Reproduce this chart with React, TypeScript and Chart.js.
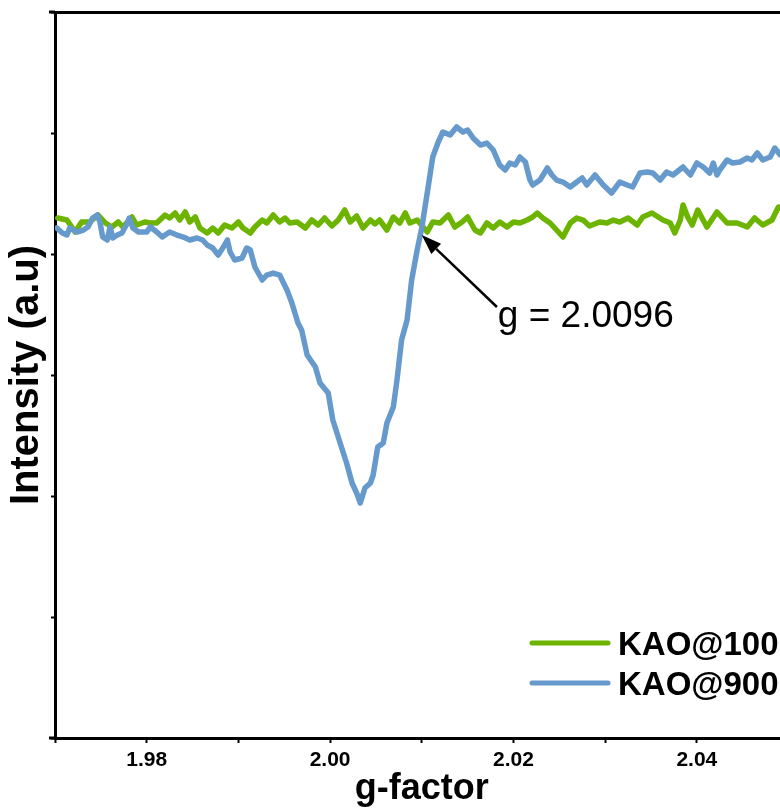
import React, { useEffect, useRef } from 'react';
import { Chart, registerables } from 'chart.js';

Chart.register(...registerables);

const FONT = "'Liberation Sans', Arial, Helvetica, sans-serif";

// Axis setup
const X_MIN = 1.97;
const X_MAX = 2.05;
const xTickValues = [1.97, 1.98, 1.99, 2.0, 2.01, 2.02, 2.03, 2.04, 2.05];
const xTickLabels = ['1.98', '2.00', '2.02', '2.04'];
const Y_MIN = 0;
const Y_MAX = 726;
const Y_STEP = 121;

const seriesLabels = ['KAO@100', 'KAO@900'];
const seriesColors = ['#6cb400', '#6699cc'];

// KAO@100 (green)
const g100 = [
  1.9703, 1.9713, 1.9722, 1.9729, 1.9738, 1.9747, 1.9755, 1.9762, 1.9769, 1.9774,
  1.9784, 1.9789, 1.9798, 1.9804, 1.9811, 1.982, 1.9825, 1.9831, 1.9836, 1.9842,
  1.9847, 1.9853, 1.9858, 1.9866, 1.9872, 1.9878, 1.9885, 1.9893, 1.99, 1.9905,
  1.9913, 1.9918, 1.9926, 1.9931, 1.9938, 1.9945, 1.9951, 1.9956, 1.9964, 1.9973,
  1.998, 1.9987, 1.9994, 2.0002, 2.0009, 2.0016, 2.0022, 2.0029, 2.0036, 2.0044,
  2.0049, 2.0054, 2.0062, 2.0069, 2.0076, 2.0082, 2.0087, 2.0095, 2.0106, 2.0112,
  2.012, 2.0129, 2.0136, 2.0144, 2.015, 2.0158, 2.0164, 2.0171, 2.0178, 2.0185,
  2.0193, 2.02, 2.0207, 2.0215, 2.0221, 2.0226, 2.0232, 2.024, 2.0247, 2.0254,
  2.0262, 2.0269, 2.0276, 2.0283, 2.0294, 2.0302, 2.0309, 2.0316, 2.0325, 2.0335,
  2.0341, 2.0351, 2.0363, 2.0371, 2.0376, 2.0382, 2.0385, 2.039, 2.0395, 2.0401,
  2.0411, 2.0422, 2.0433, 2.0444, 2.0455, 2.0463, 2.0472, 2.0482, 2.0489, 2.05,
];
const i100 = [
  520, 518, 506, 516, 516, 523, 515, 511, 516, 511,
  521, 513, 516, 515, 515, 523, 520, 525, 518, 526,
  516, 521, 510, 505, 510, 505, 513, 510, 516, 510,
  505, 511, 518, 515, 523, 516, 520, 515, 516, 510,
  518, 513, 520, 512, 518, 528, 516, 522, 510, 518,
  514, 518, 508, 521, 515, 525, 515, 518, 506, 516,
  515, 523, 511, 516, 521, 508, 505, 515, 510, 516,
  511, 516, 515, 518, 521, 525, 520, 515, 508, 501,
  515, 520, 518, 512, 516, 515, 518, 516, 520, 513,
  521, 525, 518, 515, 505, 518, 533, 521, 513, 528,
  511, 526, 515, 515, 511, 520, 513, 518, 531, 526,
];

// KAO@900 (blue)
const g900 = [
  1.9702, 1.9708, 1.9713, 1.9716, 1.9724, 1.9731, 1.9736, 1.9741, 1.9746, 1.9749,
  1.9752, 1.9757, 1.976, 1.9763, 1.9768, 1.9773, 1.9779, 1.9781, 1.9785, 1.9791,
  1.98, 1.9804, 1.9811, 1.9817, 1.9825, 1.9833, 1.984, 1.9847, 1.9855, 1.9861,
  1.9866, 1.9872, 1.9878, 1.9883, 1.9888, 1.9891, 1.9896, 1.9904, 1.9909, 1.9913,
  1.9918, 1.9926, 1.9931, 1.9938, 1.9945, 1.9953, 1.9958, 1.9965, 1.9969, 1.9975,
  1.9984, 1.9989, 1.9998, 2.0003, 2.0011, 2.0018, 2.0024, 2.0029, 2.0033, 2.0038,
  2.0044, 2.0047, 2.0052, 2.0058, 2.0062, 2.0069, 2.0073, 2.0078, 2.0084, 2.0089,
  2.0095, 2.01, 2.0107, 2.0112, 2.0118, 2.0123, 2.0131, 2.0138, 2.0145, 2.015,
  2.0156, 2.0164, 2.0171, 2.0178, 2.0185, 2.0191, 2.0196, 2.0202, 2.0207, 2.0213,
  2.0218, 2.0221, 2.0229, 2.0237, 2.0242, 2.0247, 2.0254, 2.0262, 2.0269, 2.0275,
  2.028, 2.0289, 2.0298, 2.0307, 2.0316, 2.0324, 2.033, 2.0338, 2.0346, 2.0352,
  2.036, 2.0367, 2.0374, 2.0385, 2.0393, 2.04, 2.0407, 2.0414, 2.0418, 2.0422,
  2.0425, 2.0433, 2.0439, 2.0447, 2.0455, 2.046, 2.0466, 2.0472, 2.048, 2.0485,
  2.0491, 2.05,
];
const i900 = [
  510, 505, 503, 510, 506, 508, 511, 520, 523, 516,
  501, 498, 511, 500, 503, 505, 515, 520, 510, 506,
  506, 511, 506, 501, 506, 503, 501, 498, 500, 498,
  493, 490, 483, 490, 498, 486, 478, 480, 490, 488,
  471, 458, 463, 465, 463, 448, 436, 415, 408, 383,
  371, 355, 345, 318, 295, 275, 255, 245, 235, 250,
  255, 263, 291, 295, 315, 331, 358, 398, 418, 458,
  488, 510, 551, 581, 596, 606, 603, 611, 606, 608,
  600, 593, 595, 588, 573, 568, 575, 573, 581, 576,
  558, 553, 558, 570, 563, 558, 556, 551, 556, 560,
  553, 563, 553, 545, 556, 553, 551, 565, 566, 565,
  558, 566, 563, 571, 563, 575, 571, 565, 575, 563,
  568, 578, 575, 576, 580, 578, 585, 578, 581, 590,
  583, 588,
];

// Annotation (data coordinates)
const annotationText = 'g = 2.0096';
const arrowTip = [2.01, 503];
const arrowTail = [2.0182, 431];
const annotationTextPos = [2.0183, 411];

const annotationPlugin = {
  id: 'gAnnotation',
  afterDatasetsDraw(chart: any) {
    const { ctx, scales } = chart;
    const x = scales.x;
    const y = scales.y;
    const tx = x.getPixelForValue(arrowTip[0]);
    const ty = y.getPixelForValue(arrowTip[1]);
    const sx = x.getPixelForValue(arrowTail[0]);
    const sy = y.getPixelForValue(arrowTail[1]);
    const ang = Math.atan2(ty - sy, tx - sx);
    const headLen = 20;
    const headHalf = 7;
    const bx = tx - headLen * Math.cos(ang);
    const by = ty - headLen * Math.sin(ang);
    ctx.save();
    ctx.strokeStyle = '#000';
    ctx.fillStyle = '#000';
    ctx.lineWidth = 2.5;
    ctx.beginPath();
    ctx.moveTo(sx, sy);
    ctx.lineTo(bx, by);
    ctx.stroke();
    ctx.beginPath();
    ctx.moveTo(tx, ty);
    ctx.lineTo(bx + headHalf * Math.sin(ang), by - headHalf * Math.cos(ang));
    ctx.lineTo(bx - headHalf * Math.sin(ang), by + headHalf * Math.cos(ang));
    ctx.closePath();
    ctx.fill();
    ctx.font = `37px ${FONT}`;
    ctx.textBaseline = 'alphabetic';
    ctx.textAlign = 'left';
    ctx.fillText(annotationText, x.getPixelForValue(annotationTextPos[0]), y.getPixelForValue(annotationTextPos[1]));
    ctx.restore();
  },
};

const legendPlugin = {
  id: 'customLegend',
  afterDraw(chart: any) {
    const { ctx } = chart;
    ctx.save();
    const lineX0 = 532;
    const lineX1 = 608;
    const textX = 618;
    const rows = [643, 683];
    seriesLabels.forEach((label, i) => {
      const yy = rows[i];
      ctx.strokeStyle = seriesColors[i];
      ctx.lineWidth = 5;
      ctx.lineCap = 'round';
      ctx.beginPath();
      ctx.moveTo(lineX0, yy);
      ctx.lineTo(lineX1, yy);
      ctx.stroke();
      ctx.fillStyle = '#000';
      ctx.font = `bold 33px ${FONT}`;
      ctx.textBaseline = 'alphabetic';
      ctx.textAlign = 'left';
      ctx.fillText(label, textX, yy + 12);
    });
    // small overhangs of the top and bottom frame lines past the left axis
    const area = chart.chartArea;
    ctx.strokeStyle = '#000';
    ctx.lineWidth = 3;
    ctx.lineCap = 'butt';
    ctx.beginPath();
    ctx.moveTo(area.left - 6, area.top);
    ctx.lineTo(area.left, area.top);
    ctx.moveTo(area.left - 6, area.bottom);
    ctx.lineTo(area.left, area.bottom);
    ctx.stroke();
    ctx.restore();
  },
};

export default function App() {
  const canvasRef = useRef<HTMLCanvasElement | null>(null);

  useEffect(() => {
    const canvas = canvasRef.current;
    if (!canvas) return;
    const chart = new Chart(canvas, {
      type: 'line',
      data: {
        datasets: [
          {
            label: seriesLabels[0],
            data: g100.map((g, i) => ({ x: g, y: i100[i] })),
            borderColor: seriesColors[0],
            borderWidth: 5.5,
            borderJoinStyle: 'round',
            borderCapStyle: 'round',
            pointRadius: 0,
            tension: 0,
            order: 2,
          },
          {
            label: seriesLabels[1],
            data: g900.map((g, i) => ({ x: g, y: i900[i] })),
            borderColor: seriesColors[1],
            borderWidth: 5.5,
            borderJoinStyle: 'round',
            borderCapStyle: 'round',
            pointRadius: 0,
            tension: 0,
            order: 1,
          },
        ],
      },
      options: {
        responsive: false,
        animation: false,
        devicePixelRatio: 1,
        layout: { padding: { left: 3, right: 11.5, top: 12, bottom: 11 } },
        plugins: {
          legend: { display: false },
          tooltip: { enabled: false },
        },
        scales: {
          x: {
            type: 'linear',
            position: 'bottom',
            min: X_MIN,
            max: X_MAX,
            afterBuildTicks: (axis: any) => {
              axis.ticks = xTickValues.map((v) => ({ value: v }));
            },
            ticks: {
              autoSkip: false,
              maxRotation: 0,
              padding: 7,
              color: '#000',
              font: { family: FONT, size: 21, weight: 'bold', lineHeight: 1 },
              callback: (value: any) => {
                const s = (Math.round(Number(value) * 100) / 100).toFixed(2);
                return xTickLabels.includes(s) ? s : '';
              },
            },
            grid: {
              display: true,
              drawOnChartArea: false,
              drawTicks: true,
              tickLength: 5,
              tickWidth: 2,
              tickColor: '#000',
            },
            border: { display: true, width: 3, color: '#000' },
            title: {
              display: true,
              text: 'g-factor',
              color: '#000',
              padding: 0,
              font: { family: FONT, size: 36, weight: 'bold', lineHeight: 0.611 },
            },
          },
          xTop: {
            type: 'linear',
            position: 'top',
            min: X_MIN,
            max: X_MAX,
            ticks: { display: false },
            grid: { display: true, drawOnChartArea: false, drawTicks: false },
            border: { display: true, width: 3, color: '#000' },
          },
          y: {
            type: 'linear',
            min: Y_MIN,
            max: Y_MAX,
            ticks: { display: false, stepSize: Y_STEP },
            grid: {
              display: true,
              drawOnChartArea: false,
              drawTicks: true,
              tickLength: 4,
              tickWidth: 2,
              tickColor: '#000',
            },
            border: { display: true, width: 3, color: '#000' },
            title: {
              display: true,
              text: 'Intensity (a.u)',
              color: '#000',
              padding: 0,
              font: { family: FONT, size: 40, weight: 'bold', lineHeight: 1.2 },
            },
          },
        },
      },
      plugins: [annotationPlugin, legendPlugin],
    } as any);
    return () => chart.destroy();
  }, []);

  return (
    <div
      style={{
        position: 'fixed',
        left: 0,
        top: 0,
        width: 780,
        height: 811,
        overflow: 'hidden',
        background: '#fff',
      }}
    >
      <canvas ref={canvasRef} width={800} height={811} style={{ display: 'block' }} />
    </div>
  );
}
